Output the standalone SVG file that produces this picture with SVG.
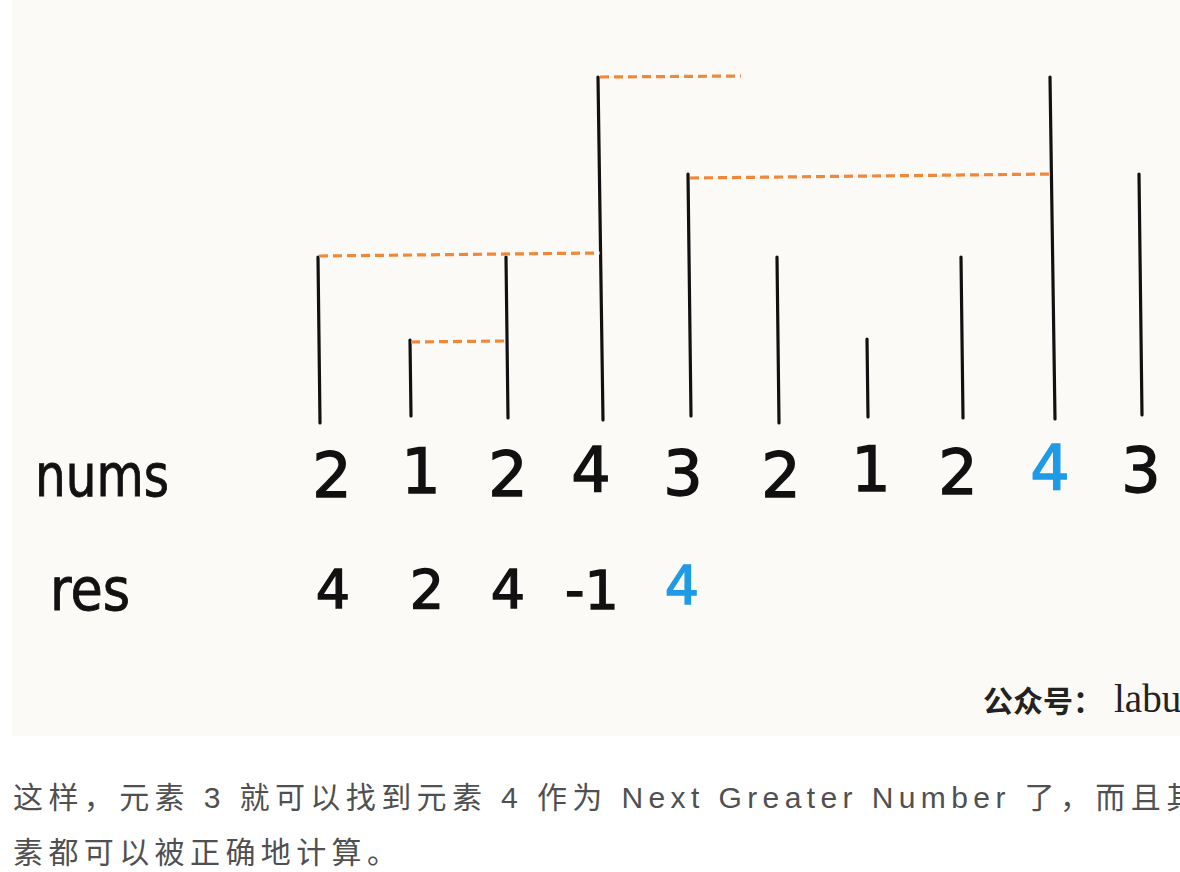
<svg xmlns="http://www.w3.org/2000/svg" width="1180" height="872" viewBox="0 0 1180 872">
<style>
.bar{stroke:#111;stroke-width:3.2;stroke-linecap:round;fill:none}
.dash{stroke:#f0883a;stroke-width:3.2;stroke-dasharray:9 5;fill:none}
.lbl{font-family:"DejaVu Sans",sans-serif;fill:#111;stroke:#111;stroke-width:0.9}
.num{font-family:"DejaVu Sans",sans-serif;font-size:62px;fill:#111;stroke:#111;stroke-width:1.4;text-anchor:middle}
.res{font-family:"DejaVu Sans",sans-serif;font-size:54px;fill:#111;stroke:#111;stroke-width:1.4;text-anchor:middle}
.blue{fill:#1f9be6;stroke:#1f9be6}
.body{font-family:"Liberation Sans","Noto Sans CJK SC",sans-serif;font-size:30px;fill:#505050;letter-spacing:5.4px}
</style>
<rect x="12" y="0" width="1168" height="736" fill="#fcfaf6"/>
<g id="bars">
<g id="bar0"><line class="bar" x1="318" y1="257" x2="320" y2="423"/></g>
<g id="bar1"><line class="bar" x1="410" y1="340" x2="411" y2="416"/></g>
<g id="bar2"><line class="bar" x1="506" y1="257" x2="508" y2="418"/></g>
<g id="bar3"><line class="bar" x1="598" y1="77" x2="603" y2="420"/></g>
<g id="bar4"><line class="bar" x1="688" y1="174" x2="691" y2="416"/></g>
<g id="bar5"><line class="bar" x1="777" y1="257" x2="779" y2="423"/></g>
<g id="bar6"><line class="bar" x1="867" y1="339" x2="868" y2="417"/></g>
<g id="bar7"><line class="bar" x1="961" y1="257" x2="963" y2="418"/></g>
<g id="bar8"><line class="bar" x1="1050" y1="77" x2="1055" y2="419"/></g>
<g id="bar9"><line class="bar" x1="1139" y1="174" x2="1142" y2="415"/></g>
</g>
<g id="connectors">
<line class="dash" x1="319" y1="256" x2="600" y2="253"/>
<line class="dash" x1="411" y1="342" x2="506" y2="341"/>
<line class="dash" x1="600" y1="77" x2="741" y2="76"/>
<line class="dash" x1="690" y1="178" x2="1053" y2="174"/>
</g>
<g id="labels">
<text class="lbl" x="35" y="496" font-size="58" textLength="134" lengthAdjust="spacingAndGlyphs">nums</text>
<text class="lbl" x="50" y="610" font-size="58" textLength="80" lengthAdjust="spacingAndGlyphs">res</text>
</g>
<g id="nums">
<text class="num" x="332" y="497">2</text>
<text class="num" x="421" y="493">1</text>
<text class="num" x="508" y="496">2</text>
<text class="num" x="591" y="492">4</text>
<text class="num" x="683" y="495">3</text>
<text class="num" x="781" y="497">2</text>
<text class="num" x="871" y="491">1</text>
<text class="num" x="958" y="494">2</text>
<text class="num blue" x="1050" y="490">4</text>
<text class="num" x="1141" y="492">3</text>
</g>
<g id="res">
<text class="res" x="333" y="608">4</text>
<text class="res" x="427" y="608">2</text>
<text class="res" x="508" y="608">4</text>
<text class="res" x="592" y="609">-1</text>
<text class="res blue" x="682" y="604">4</text>
</g>
<g id="watermark">
<text x="983" y="712" fill="#222"><tspan font-family="'Noto Sans CJK SC',sans-serif" font-weight="bold" font-size="30">公众号：</tspan><tspan x="1114" font-family="'Liberation Serif',serif" font-size="39">labu</tspan></text>
</g>
<g id="caption">
<text class="body" x="13" y="808">这样，元素 3 就可以找到元素 4 作为 Next Greater Number 了，而且其</text>
<text class="body" x="13" y="863">素都可以被正确地计算。</text>
</g>
</svg>
